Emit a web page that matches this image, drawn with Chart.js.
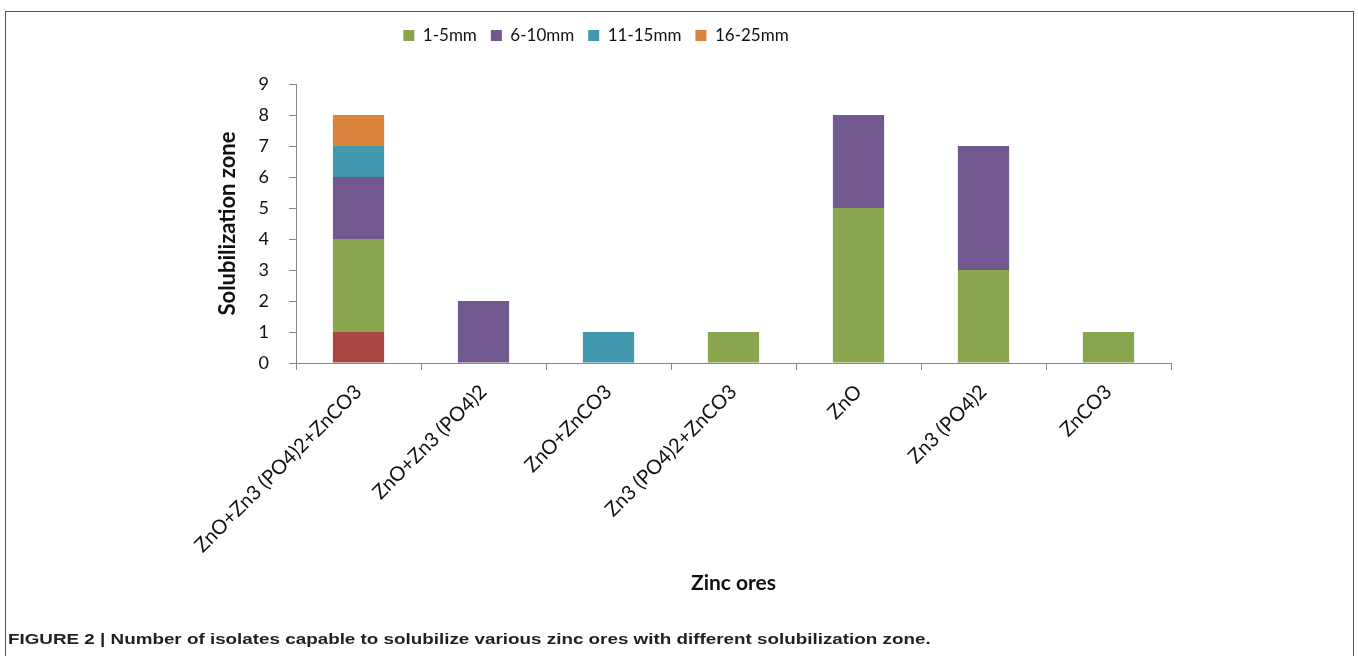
<!DOCTYPE html>
<html>
<head>
<meta charset="utf-8">
<script src="https://cdn.jsdelivr.net/npm/chart.js@4.4.1/dist/chart.umd.min.js"></script>
<style>
  html, body { margin: 0; padding: 0; background: #fff; overflow: hidden; }
  #frame {
    position: absolute; left: 5px; top: 11px; width: 1349px; height: 700px;
    border: 1px solid #555; box-sizing: border-box;
  }
  #wrap { position: absolute; left: 0; top: 0; width: 1358px; height: 656px; }
  #caption {
    position: absolute; left: 8px; top: 630px;
    font-family: 'Liberation Sans', Arial, sans-serif; font-weight: bold; font-size: 15px;
    color: #231f20; white-space: nowrap;
    transform: scaleX(1.255); transform-origin: left top;
  }
</style>
</head>
<body>
<div id="frame"></div>
<div id="wrap"><canvas id="zincChart"></canvas></div>
<div id="caption">FIGURE 2 | Number of isolates capable to solubilize various zinc ores with different solubilization zone.</div>

<script>
// ── Data ──
const categories = ['ZnO+Zn3 (PO4)2+ZnCO3', 'ZnO+Zn3 (PO4)2', 'ZnO+ZnCO3', 'Zn3 (PO4)2+ZnCO3', 'ZnO', 'Zn3 (PO4)2', 'ZnCO3'];
const unnamed  = [1, 0, 0, 0, 0, 0, 0];
const mm1to5   = [3, 0, 0, 1, 5, 3, 1];
const mm6to10  = [2, 2, 0, 0, 3, 4, 0];
const mm11to15 = [1, 0, 1, 0, 0, 0, 0];
const mm16to25 = [1, 0, 0, 0, 0, 0, 0];
const yTicks = [0, 1, 2, 3, 4, 5, 6, 7, 8, 9];

const AXIS = '#868686';

// push the plot down below the legend
const legendSpacer = {
  id: 'legendSpacer',
  beforeUpdate(chart) {
    if (!chart.legend || chart.legend._spaced) return;
    const origFit = chart.legend.fit;
    chart.legend.fit = function () {
      origFit.call(this);
      this.height += 30;
    };
    chart.legend._spaced = true;
  }
};

Chart.defaults.font.family = 'Lato, sans-serif';
Chart.defaults.color = '#111';

function series(label, data, color) {
  return {
    label: label,
    data: data,
    backgroundColor: color,
    borderWidth: 0,
    barPercentage: 0.41,
    categoryPercentage: 1
  };
}

const ctx = document.getElementById('zincChart').getContext('2d');
new Chart(ctx, {
  type: 'bar',
  data: {
    labels: categories,
    datasets: [
      series('', unnamed, '#AA4643'),
      series('1-5mm', mm1to5, '#89A54E'),
      series('6-10mm', mm6to10, '#71588F'),
      series('11-15mm', mm11to15, '#4198AF'),
      series('16-25mm', mm16to25, '#DB843D')
    ]
  },
  options: {
    responsive: true, maintainAspectRatio: false,
    animation: false,
    layout: { padding: { left: 21, right: 187, top: 13, bottom: 0 } },
    plugins: {
      legend: {
        position: 'top',
        labels: {
          boxWidth: 11, boxHeight: 11, padding: 14,
          font: { size: 17 }, color: '#111',
          filter: item => item.text !== ''
        }
      },
      tooltip: { enabled: false }
    },
    scales: {
      x: {
        stacked: true,
        grid: { display: true, drawOnChartArea: false, drawTicks: true, tickLength: 7, color: AXIS, offset: true },
        border: { display: true, color: AXIS, width: 1 },
        ticks: { autoSkip: false, maxRotation: 45, minRotation: 45, padding: 10, font: { size: 20 }, color: '#111' },
        title: { display: true, text: 'Zinc ores', font: { size: 21, weight: 'bold' }, color: '#111', padding: { top: 4, bottom: 60 } },
        afterFit: s => { s.height = 293; }
      },
      y: {
        stacked: true,
        min: 0, max: 9,
        afterBuildTicks: s => { s.ticks = yTicks.map(v => ({ value: v })); },
        grid: { display: true, drawOnChartArea: false, drawTicks: true, tickLength: 7, color: AXIS },
        border: { display: true, color: AXIS, width: 1 },
        ticks: { padding: 20, font: { size: 18 }, color: '#111' },
        title: { display: true, text: 'Solubilization zone', font: { size: 22, weight: 'bold' }, color: '#111', padding: { top: 194, bottom: 4 } },
        afterFit: s => { s.width = 275; }
      }
    }
  },
  plugins: [legendSpacer]
});
</script>
</body>
</html>
